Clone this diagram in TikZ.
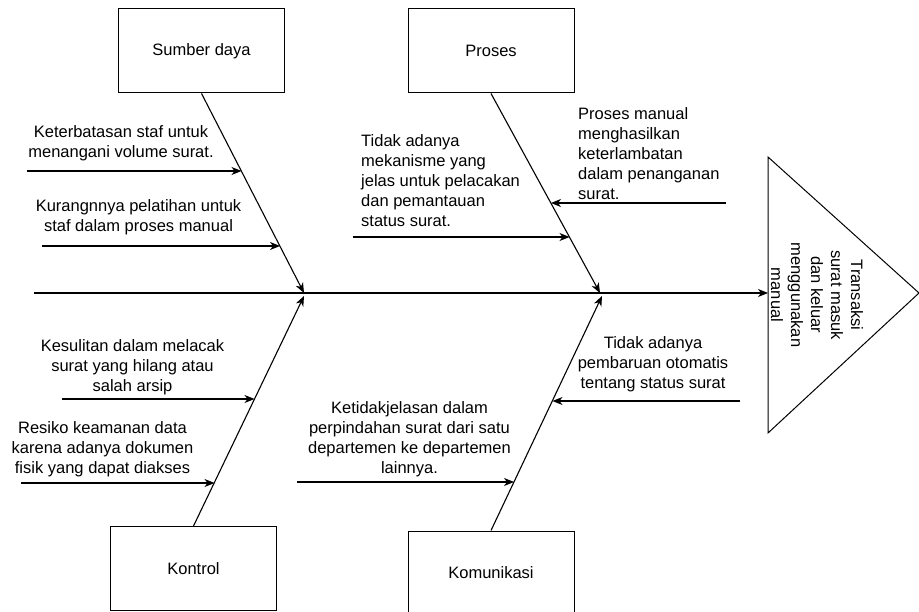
\documentclass[tikz,border=0pt]{standalone}
\usepackage{fontspec}
\setmainfont{Liberation Sans}
\usetikzlibrary{arrows.meta}
\tikzset{
  box/.style={draw, line width=1pt, minimum width=166pt, minimum height=84pt, inner sep=0pt},
  cause/.style={inner sep=0pt, align=center},
  bone/.style={line width=1.1pt, -{Stealth[length=10pt,width=8pt,inset=3pt]}},
}
\begin{document}
\begin{tikzpicture}[x=1pt, y=-1pt, font=\fontsize{16.5}{20}\selectfont] % fishbone
  \useasboundingbox (0,0) rectangle (919,612);
  % categories
  \node[box] (sd) at (201.5,51) {Sumber daya};
  \node[box] (pr) at (491,51) {Proses};
  \node[box] (kt) at (193.5,568.5) {Kontrol};
  \node[box] (km) at (491,573) {Komunikasi};
  % head
  \coordinate (tail) at (34,293);
  \coordinate (base) at (768,293);
  \draw[line width=1pt] (768,157) -- (919,293) -- (768,433) -- cycle;
  \node[rotate=-90, align=center, inner sep=0pt] (goal) at (817,295)
    {Transaksi\\surat masuk\\dan keluar\\menggunakan\\manual};
  \draw[bone] (tail) -- (base);
  % bones
  \coordinate (tsd) at (304,293);
  \coordinate (tpr) at (600,293);
  \coordinate (tkt) at (304,296);
  \coordinate (tkm) at (602,296);
  \draw[bone] (sd.south) -- (tsd);
  \draw[bone] (pr.south) -- (tpr);
  \draw[bone] (kt.north) -- (tkt);
  \draw[bone] (km.north) -- (tkm);
  % sumber daya
  \coordinate (a1) at (27,171);  \coordinate (b1) at (241.5,171);
  \coordinate (a2) at (42,246);  \coordinate (b2) at (280,246);
  \draw[bone] (a1) -- (b1);
  \draw[bone] (a2) -- (b2);
  \node[cause] (c1) at (121,143) {Keterbatasan staf untuk\\menangani volume surat.};
  \node[cause] (c2) at (138.5,217.5) {Kurangnnya pelatihan untuk\\staf dalam proses manual};
  % proses
  \coordinate (a3) at (353,237); \coordinate (b3) at (569.5,237);
  \coordinate (a4) at (726,203); \coordinate (b4) at (551,203);
  \draw[bone] (a3) -- (b3);
  \draw[bone] (a4) -- (b4);
  \node[cause, align=left, anchor=west] (c3) at (361,181)
    {Tidak adanya\\mekanisme yang\\jelas untuk pelacakan\\dan pemantauan\\status surat.};
  \node[cause, align=left, anchor=west] (c4) at (578,154)
    {Proses manual\\menghasilkan\\keterlambatan\\dalam penanganan\\surat.};
  % kontrol
  \coordinate (a5) at (62,399);  \coordinate (b5) at (254.5,399);
  \coordinate (a6) at (21,483);  \coordinate (b6) at (214.5,483);
  \draw[bone] (a5) -- (b5);
  \draw[bone] (a6) -- (b6);
  \node[cause] (c5) at (132.5,367) {Kesulitan dalam melacak\\surat yang hilang atau\\salah arsip};
  \node[cause] (c6) at (102.5,449.5) {Resiko keamanan data\\karena adanya dokumen\\fisik yang dapat diakses};
  % komunikasi
  \coordinate (a7) at (297,482); \coordinate (b7) at (514,482);
  \coordinate (a8) at (740,401); \coordinate (b8) at (552.5,401);
  \draw[bone] (a7) -- (b7);
  \draw[bone] (a8) -- (b8);
  \node[cause] (c7) at (409.5,439.5) {Ketidakjelasan dalam\\perpindahan surat dari satu\\departemen ke departemen\\lainnya.};
  \node[cause] (c8) at (653,364.5) {Tidak adanya\\pembaruan otomatis\\tentang status surat};
\end{tikzpicture}
\end{document}
